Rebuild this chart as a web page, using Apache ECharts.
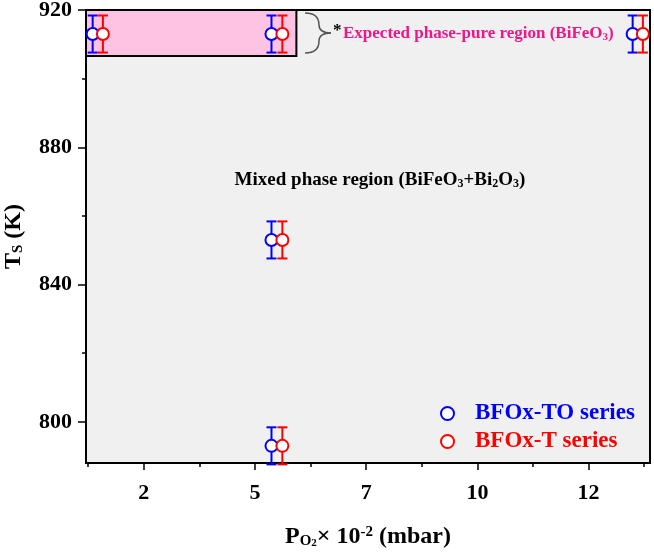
<!DOCTYPE html>
<html><head><meta charset="utf-8">
<script src="https://cdn.jsdelivr.net/npm/echarts@6/dist/echarts.min.js"></script>
<style>html,body{margin:0;padding:0;background:#fff}#c{width:654px;height:554px}</style>
</head><body><div id="c"></div>
<script>
// ---- data ----
const seriesNames = ['BFOx-TO series', 'BFOx-T series'];
const seriesColors = ['#0000ff', '#ff0000'];
const toX = [1.35, 5.37, 5.37, 5.37, 13.49];
const toY = [913, 913, 853, 793, 913];
const toErr = [5.4, 5.4, 5.4, 5.4, 5.4];
const tX = [1.58, 5.615, 5.615, 5.615, 13.72];
const tY = [913, 913, 853, 793, 913];
const tErr = [5.4, 5.4, 5.4, 5.4, 5.4];
const xMajorTicks = [2.5, 5, 7.5, 10, 12.5];
const xTickLabels = ['2', '5', '7', '10', '12'];
const xMinorTicks = [1.25, 3.75, 6.25, 8.75, 11.25, 13.75];
const yMajorTicks = [800, 840, 880, 920];
const yMinorTicks = [820, 860, 900];
const xRange = [1.2, 13.88];
const yRange = [788, 920];
const pureRegion = [[1.2, 920], [5.93, 906.6]];

const FF = 'Liberation Serif';
const chart = echarts.init(document.getElementById('c'), null, {renderer: 'canvas'});

function rows(xs, ys, es) { return xs.map((x, i) => [x, ys[i], es[i]]); }
function errRender(color) {
  return function (params, api) {
    const x = api.value(0), y = api.value(1), e = api.value(2);
    const top = api.coord([x, y + e]), bot = api.coord([x, y - e]);
    const hw = 5;
    const st = {stroke: color, lineWidth: 2};
    return {type: 'group', children: [
      {type: 'line', shape: {x1: top[0], y1: top[1], x2: bot[0], y2: bot[1]}, style: st},
      {type: 'line', shape: {x1: top[0] - hw, y1: top[1], x2: top[0] + hw, y2: top[1]}, style: st},
      {type: 'line', shape: {x1: bot[0] - hw, y1: bot[1], x2: bot[0] + hw, y2: bot[1]}, style: st}
    ]};
  };
}
const datasets = [rows(toX, toY, toErr), rows(tX, tY, tErr)];
const series = [];
datasets.forEach((d, i) => {
  const s = {
    name: seriesNames[i] + ' err', type: 'custom', z: 2 + i * 2,
    renderItem: errRender(seriesColors[i]), encode: {x: 0, y: 1}, data: d, silent: true
  };
  if (i === 0) {
    s.markArea = {silent: true, itemStyle: {color: '#fec3e3', borderColor: '#000', borderWidth: 2},
      data: [[{coord: pureRegion[0]}, {coord: pureRegion[1]}]]};
  }
  series.push(s);
  series.push({
    name: seriesNames[i], type: 'scatter', z: 3 + i * 2, symbol: 'circle', symbolSize: 12,
    itemStyle: {color: '#ffffff', borderColor: seriesColors[i], borderWidth: 2, opacity: 1},
    data: d.map(r => [r[0], r[1]])
  });
});

const tickFont = {fontFamily: FF, fontWeight: 'bold', fontSize: 22, color: '#000'};
const braceStyle = {fill: null, stroke: '#555', lineWidth: 1.5};
const option = {
  animation: false,
  grid: {left: 86, right: 4, top: 10, bottom: 91, containLabel: false, outerBoundsMode: 'none',
    show: true, backgroundColor: '#f0f0f0', borderColor: '#000', borderWidth: 2},
  legend: {
    orient: 'vertical', left: 440, top: 402, padding: 0, itemGap: 5, itemWidth: 13, itemHeight: 13,
    textStyle: {fontFamily: FF, fontWeight: 'bold', fontSize: 23, padding: [0, 0, 0, 16]},
    data: seriesNames.map((n, i) => ({name: n, icon: 'circle',
      itemStyle: {color: '#ffffff', borderColor: seriesColors[i], borderWidth: 2},
      textStyle: {color: seriesColors[i]}}))
  },
  xAxis: [{
    type: 'value', min: xRange[0], max: xRange[1], position: 'bottom',
    axisLine: {show: true, onZero: false, lineStyle: {color: '#000', width: 2}},
    axisTick: {show: true, inside: false, length: 7, customValues: xMajorTicks, lineStyle: {color: '#000', width: 1.5}},
    axisLabel: Object.assign({margin: 19, customValues: xMajorTicks,
      formatter: v => xTickLabels[xMajorTicks.indexOf(v)]}, tickFont),
    splitLine: {show: false},
    name: '{a|P}{s|O}{ss|2}{a|× 10}{sup|-2}{a| (mbar)}', nameLocation: 'middle', nameGap: 62,
    nameTextStyle: {rich: {
      a: {fontFamily: FF, fontWeight: 'bold', fontSize: 24, color: '#000'},
      s: {fontFamily: FF, fontWeight: 'bold', fontSize: 15, color: '#000', verticalAlign: 'bottom', padding: [7, 0, 0, 0]},
      ss: {fontFamily: FF, fontWeight: 'bold', fontSize: 11, color: '#000', verticalAlign: 'bottom', padding: [12, 0, 0, 0]},
      sup: {fontFamily: FF, fontWeight: 'bold', fontSize: 15, color: '#000', verticalAlign: 'top'}
    }}
  }, {
    type: 'value', min: xRange[0], max: xRange[1], position: 'bottom',
    axisLine: {show: false},
    axisTick: {show: true, inside: false, length: 4, customValues: xMinorTicks, lineStyle: {color: '#000', width: 1.5}},
    axisLabel: {show: false}, splitLine: {show: false}
  }],
  yAxis: [{
    type: 'value', min: yRange[0], max: yRange[1], position: 'left',
    axisLine: {show: true, onZero: false, lineStyle: {color: '#000', width: 2}},
    axisTick: {show: true, inside: false, length: 8, customValues: yMajorTicks, lineStyle: {color: '#000', width: 1.5}},
    axisLabel: Object.assign({margin: 14, customValues: yMajorTicks}, tickFont),
    splitLine: {show: false},
    name: '{a|T}{s|S}{a| (K)}', nameLocation: 'middle', nameGap: 60,
    nameTextStyle: {rich: {
      a: {fontFamily: FF, fontWeight: 'bold', fontSize: 24, color: '#000'},
      s: {fontFamily: FF, fontWeight: 'bold', fontSize: 15, color: '#000', verticalAlign: 'bottom', padding: [7, 0, 0, 0]}
    }}
  }, {
    type: 'value', min: yRange[0], max: yRange[1], position: 'left',
    axisLine: {show: false},
    axisTick: {show: true, inside: false, length: 4, customValues: yMinorTicks, lineStyle: {color: '#000', width: 1.5}},
    axisLabel: {show: false}, splitLine: {show: false}
  }],
  graphic: [
    {type: 'bezierCurve', z: 100, shape: {x1: 305, y1: 13, cpx1: 316, cpy1: 13, cpx2: 319, cpy2: 18, x2: 319, y2: 25}, style: braceStyle},
    {type: 'bezierCurve', z: 100, shape: {x1: 319, y1: 25, cpx1: 319, cpy1: 30, cpx2: 322, cpy2: 33, x2: 331, y2: 33}, style: braceStyle},
    {type: 'bezierCurve', z: 100, shape: {x1: 331, y1: 33, cpx1: 322, cpy1: 33, cpx2: 319, cpy2: 36, x2: 319, y2: 41}, style: braceStyle},
    {type: 'bezierCurve', z: 100, shape: {x1: 319, y1: 41, cpx1: 319, cpy1: 48, cpx2: 316, cpy2: 53, x2: 305, y2: 53}, style: braceStyle},
    {type: 'text', z: 100, x: 333, y: 31, style: {text: '*', font: 'bold 17px "Liberation Serif"', fill: '#000', verticalAlign: 'middle'}},
    {type: 'text', z: 100, x: 343, y: 34, style: {
      text: '{a|Expected phase-pure region (BiFeO}{s|3}{a|)}', verticalAlign: 'middle',
      rich: {
        a: {fontFamily: FF, fontWeight: 'bold', fontSize: 17, fill: '#f0168a'},
        s: {fontFamily: FF, fontWeight: 'bold', fontSize: 11, fill: '#f0168a', verticalAlign: 'bottom', padding: [6, 0, 0, 0]}
      }}},
    {type: 'text', z: 100, x: 380, y: 180, style: {
      text: '{a|Mixed phase region (BiFeO}{s|3}{a|+Bi}{s|2}{a|O}{s|3}{a|)}', align: 'center', verticalAlign: 'middle',
      rich: {
        a: {fontFamily: FF, fontWeight: 'bold', fontSize: 19, fill: '#000'},
        s: {fontFamily: FF, fontWeight: 'bold', fontSize: 12, fill: '#000', verticalAlign: 'bottom', padding: [6, 0, 0, 0]}
      }}}
  ],
  series: series
};
chart.setOption(option);
</script>
</body></html>
